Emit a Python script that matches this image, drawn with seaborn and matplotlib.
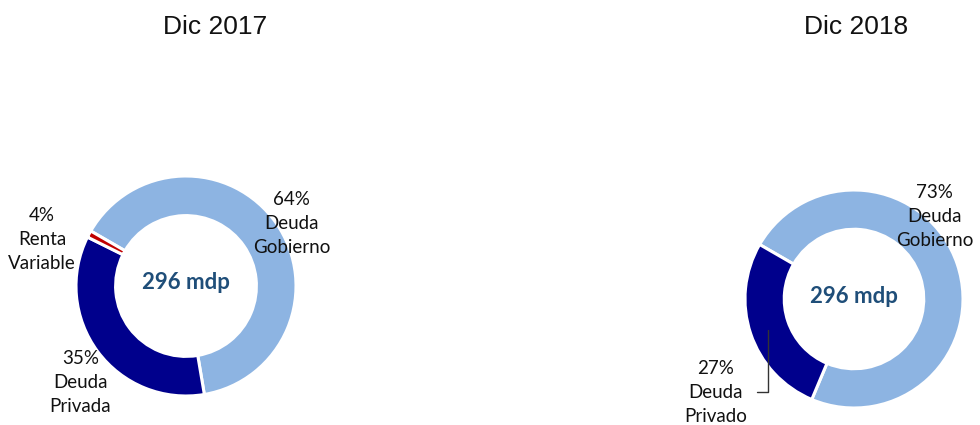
import matplotlib
matplotlib.use("Agg")
import matplotlib.pyplot as plt
import seaborn as sns

# ---- data ----
titles = ["Dic 2017", "Dic 2018"]
categories_2017 = ["Deuda\nGobierno", "Deuda\nPrivada", "Renta\nVariable"]
values_2017 = [64, 35, 1]
pct_labels_2017 = ["64%", "35%", "4%"]
categories_2018 = ["Deuda\nGobierno", "Deuda\nPrivado"]
values_2018 = [73, 27]
pct_labels_2018 = ["73%", "27%"]
center_text = ["296 mdp", "296 mdp"]

# ---- style ----
sns.set_theme(style="white")
plt.rcParams["font.family"] = ["Lato", "DejaVu Sans"]

LIGHT = "#8DB4E2"
NAVY = "#00008C"
RED = "#C00000"
CENTER_COL = "#1F4E79"

W, H = 980, 425
fig = plt.figure(figsize=(W / 100, H / 100), dpi=100)


def make_ax(cx, cy, r):
    return fig.add_axes([(cx - r) / W, (H - cy - r) / H, 2 * r / W, 2 * r / H])


def donut(ax, values, colors):
    ax.pie(values, colors=colors, startangle=150, counterclock=False,
           radius=1.0, wedgeprops=dict(width=0.36, edgecolor="white", linewidth=2.2))
    ax.set_xlim(-1, 1)
    ax.set_ylim(-1, 1)
    ax.axis("off")


lab_kw = dict(ha="center", va="center", fontsize=13.5, color="#111111",
              linespacing=1.5, clip_on=False)
ctr_kw = dict(ha="center", va="center", fontsize=16, fontweight="bold",
              color=CENTER_COL)

# ---- 2017 ----
ax1 = make_ax(186, 286, 110)
donut(ax1, values_2017, [LIGHT, NAVY, RED])
ax1.text(0, 0.03, center_text[0], **ctr_kw)
ax1.text(0.96, 0.57, f"{pct_labels_2017[0]}\n{categories_2017[0]}", **lab_kw)
ax1.text(-0.96, -0.88, f"{pct_labels_2017[1]}\n{categories_2017[1]}", **lab_kw)
ax1.text(-1.31, 0.42, f"{pct_labels_2017[2]}\n{categories_2017[2]}", **lab_kw)

# ---- 2018 ----
ax2 = make_ax(854, 299, 109)
donut(ax2, values_2018, [LIGHT, NAVY])
ax2.text(0, 0.02, center_text[1], **ctr_kw)
ax2.text(0.74, 0.76, f"{pct_labels_2018[0]}\n{categories_2018[0]}", **lab_kw)
ax2.text(-1.27, -0.86, f"{pct_labels_2018[1]}\n{categories_2018[1]}", **lab_kw)
ax2.plot([-0.79, -0.79, -0.89], [-0.28, -0.85, -0.85], color="#333333",
         lw=1.0, clip_on=False)

# ---- titles ----
title_kw = dict(ha="center", va="center", fontsize=19,
                family=["Liberation Sans", "DejaVu Sans"], color="#111111")
fig.text(215 / W, 1 - 27 / H, titles[0], **title_kw)
fig.text(856 / W, 1 - 27 / H, titles[1], **title_kw)

fig.savefig("out.png", dpi=100, facecolor="white")
